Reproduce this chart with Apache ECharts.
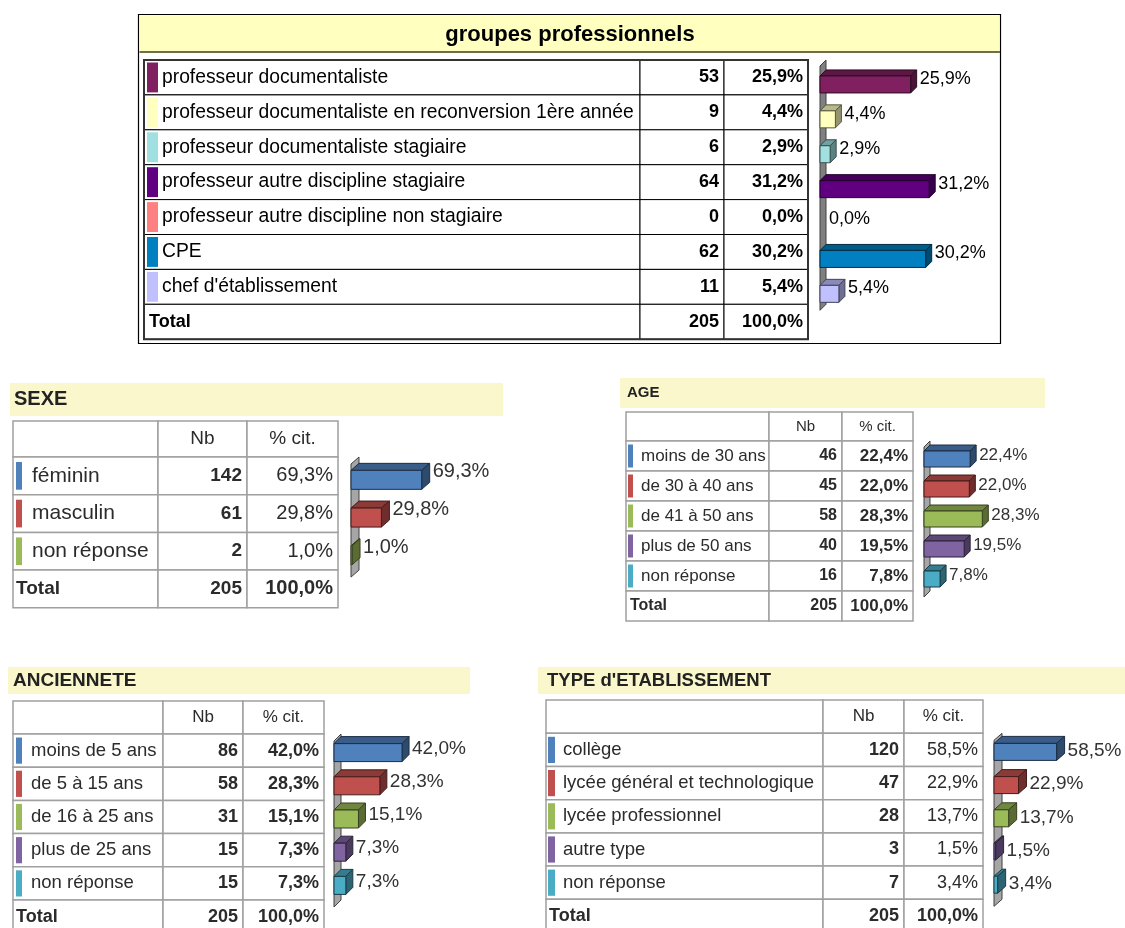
<!DOCTYPE html>
<html>
<head>
<meta charset="utf-8">
<script src="https://cdn.jsdelivr.net/npm/echarts@6/dist/echarts.min.js"></script>
<style>
  html, body { margin: 0; padding: 0; background: #fff; }
  #chart { width: 1125px; height: 928px; }
</style>
</head>
<body>
<div id="chart"></div>
<script>
// groupes professionnels
const gpLabels = ["professeur documentaliste", "professeur documentaliste en reconversion 1ère année",
  "professeur documentaliste stagiaire", "professeur autre discipline stagiaire",
  "professeur autre discipline non stagiaire", "CPE", "chef d'établissement"];
const gpNb = [53, 9, 6, 64, 0, 62, 11];
const gpPct = [25.9, 4.4, 2.9, 31.2, 0.0, 30.2, 5.4];
const gpColors = ["#802060", "#ffffc0", "#a0e0e0", "#600080", "#ff8080", "#0080c0", "#c0c0ff"];

// SEXE
const sexeLabels = ["féminin", "masculin", "non réponse"];
const sexeNb = [142, 61, 2];
const sexePct = [69.3, 29.8, 1.0];

// AGE
const ageLabels = ["moins de 30 ans", "de 30 à 40 ans", "de 41 à 50 ans", "plus de 50 ans", "non réponse"];
const ageNb = [46, 45, 58, 40, 16];
const agePct = [22.4, 22.0, 28.3, 19.5, 7.8];

// ANCIENNETE
const ancLabels = ["moins de 5 ans", "de 5 à 15 ans", "de 16 à 25 ans", "plus de 25 ans", "non réponse"];
const ancNb = [86, 58, 31, 15, 15];
const ancPct = [42.0, 28.3, 15.1, 7.3, 7.3];

// TYPE d'ETABLISSEMENT
const typeLabels = ["collège", "lycée général et technologique", "lycée professionnel", "autre type", "non réponse"];
const typeNb = [120, 47, 28, 3, 7];
const typePct = [58.5, 22.9, 13.7, 1.5, 3.4];

const officeColors = ["#4f81bd", "#c0504d", "#9bbb59", "#8064a2", "#4bacc6"];
const totalNb = 205;
const totalPct = 100.0;

const FAMILY = "'Liberation Sans', Arial, sans-serif";
const font = (size, bold) => (bold ? "bold " : "") + size + "px " + FAMILY;
const fmt = (v) => v.toFixed(1).replace(".", ",") + "%";

function shade(hex, f) {
  const n = parseInt(hex.slice(1), 16);
  const r = Math.round(((n >> 16) & 255) * f);
  const g = Math.round(((n >> 8) & 255) * f);
  const b = Math.round((n & 255) * f);
  return "rgb(" + r + "," + g + "," + b + ")";
}

// layout of each block (table + 3d bars)
const blocks = [
  {
    labels: gpLabels, nb: gpNb, pct: gpPct, colors: gpColors,
    top: 60, headerH: 0, rowH: 34.9, cols: [144, 640, 724, 808],
    lineColor: "#000", lineW: 1, outer: "#333", textColor: "#000",
    labelFont: 19.3, numFont: 18, pctFont: 18, pctBold: true, headFont: 18,
    labelX: 162, totalX: 149, swX: 147, swW: 11, swPad: 2.5,
    x0: 820, ppp: 3.5, vmax: 40, boxH: 17, dx: 6, dy: 6, off: 7, valFont: 18, valDy: -5.5, valColor: "#000",
    wallFill: "#808080", wallStroke: "#404040"
  },
  {
    title: "SEXE", band: [10, 383, 493, 33], titleX: 14, titleFont: 20,
    labels: sexeLabels, nb: sexeNb, pct: sexePct, colors: officeColors,
    top: 421, headerH: 36, rowH: 37.7, cols: [13, 158, 247, 338],
    lineColor: "#a0a0a0", lineW: 1.5, textColor: "#2b2b2b",
    labelFont: 21, numFont: 19, pctFont: 20, pctBold: false, headFont: 19,
    labelX: 32, totalX: 16, swX: 16, swW: 6, swPad: 5,
    x0: 351, ppp: 1.02, vmax: 100, boxH: 19, dx: 8, dy: 7, off: 4, valFont: 20, valDy: -8, valColor: "#333",
    wallFill: "#a6a6a6", wallStroke: "#404040"
  },
  {
    title: "AGE", band: [620, 378, 425, 30], titleX: 627, titleFont: 15,
    labels: ageLabels, nb: ageNb, pct: agePct, colors: officeColors,
    top: 412, headerH: 29, rowH: 30, cols: [626, 769, 842, 913],
    lineColor: "#a0a0a0", lineW: 1.5, textColor: "#2b2b2b",
    labelFont: 17, numFont: 16, pctFont: 17, pctBold: true, headFont: 15,
    labelX: 641, totalX: 630, swX: 628, swW: 5, swPad: 3.5,
    x0: 924, ppp: 2.06, vmax: 40, boxH: 16, dx: 6, dy: 6, off: 3, valFont: 17, valDy: -3.5, valColor: "#333",
    wallFill: "#a6a6a6", wallStroke: "#404040"
  },
  {
    title: "ANCIENNETE", band: [8, 667, 462, 27], titleX: 13, titleFont: 19,
    labels: ancLabels, nb: ancNb, pct: ancPct, colors: officeColors,
    top: 701, headerH: 33, rowH: 33.2, cols: [13, 163, 243, 324],
    lineColor: "#a0a0a0", lineW: 1.5, textColor: "#2b2b2b",
    labelFont: 18.5, numFont: 18, pctFont: 18, pctBold: true, headFont: 17,
    labelX: 31, totalX: 16, swX: 16, swW: 6, swPad: 3.5,
    x0: 334, ppp: 1.62, vmax: 60, boxH: 18, dx: 7, dy: 7, off: 2, valFont: 19, valDy: -4, valColor: "#333",
    wallFill: "#a6a6a6", wallStroke: "#404040"
  },
  {
    title: "TYPE d'ETABLISSEMENT", band: [538, 667, 587, 27], titleX: 547, titleFont: 18.5,
    labels: typeLabels, nb: typeNb, pct: typePct, colors: officeColors,
    top: 700, headerH: 33.3, rowH: 33.2, cols: [546, 823, 904, 983],
    lineColor: "#a0a0a0", lineW: 1.5, textColor: "#2b2b2b",
    labelFont: 18.5, numFont: 18, pctFont: 18, pctBold: false, headFont: 17,
    labelX: 563, totalX: 549, swX: 548, swW: 7, swPad: 3.5,
    x0: 994, ppp: 1.07, vmax: 80, boxH: 17, dx: 8, dy: 7, off: 2, valFont: 19, valDy: -1, valColor: "#333",
    wallFill: "#a6a6a6", wallStroke: "#404040"
  }
];

function textEl(text, x, y, f, fill, align) {
  return {
    type: "text", silent: true,
    style: { text: text, x: x, y: y, font: f, fill: fill,
      align: align, textAlign: align, verticalAlign: "middle", textVerticalAlign: "middle" }
  };
}

// table of a block, drawn as graphic elements
function tableEls(b) {
  const els = [];
  if (b.title) {
    els.push({ type: "rect", silent: true, shape: { x: b.band[0], y: b.band[1], width: b.band[2], height: b.band[3] },
      style: { fill: "#fbf7cc" } });
    els.push(textEl(b.title, b.titleX, b.band[1] + b.band[3] / 2, font(b.titleFont, true), "#222", "left"));
  }
  const rows = [];
  let y = b.top;
  if (b.headerH) { rows.push({ y: y, h: b.headerH, kind: "header" }); y += b.headerH; }
  b.labels.forEach((lab, i) => { rows.push({ y: y, h: b.rowH, kind: "item", i: i }); y += b.rowH; });
  rows.push({ y: y, h: b.rowH, kind: "total" });
  const c = b.cols;
  rows.forEach((r) => {
    for (let k = 0; k < 3; k++) {
      els.push({ type: "rect", silent: true, shape: { x: c[k], y: r.y, width: c[k + 1] - c[k], height: r.h },
        style: { fill: "#fff", stroke: b.lineColor, lineWidth: b.lineW } });
    }
    const cy = r.y + r.h / 2;
    if (r.kind === "header") {
      els.push(textEl("Nb", (c[1] + c[2]) / 2, cy, font(b.headFont, false), b.textColor, "center"));
      els.push(textEl("% cit.", (c[2] + c[3]) / 2, cy, font(b.headFont, false), b.textColor, "center"));
    } else if (r.kind === "item") {
      els.push({ type: "rect", silent: true,
        shape: { x: b.swX, y: r.y + b.swPad, width: b.swW, height: r.h - 2 * b.swPad },
        style: { fill: b.colors[r.i] } });
      els.push(textEl(b.labels[r.i], b.labelX, cy, font(b.labelFont, false), b.textColor, "left"));
      els.push(textEl(String(b.nb[r.i]), c[2] - 5, cy, font(b.numFont, true), b.textColor, "right"));
      els.push(textEl(fmt(b.pct[r.i]), c[3] - 5, cy, font(b.pctFont, b.pctBold), b.textColor, "right"));
    } else {
      els.push(textEl("Total", b.totalX, cy, font(b.numFont, true), b.textColor, "left"));
      els.push(textEl(String(totalNb), c[2] - 5, cy, font(b.numFont, true), b.textColor, "right"));
      els.push(textEl(fmt(totalPct), c[3] - 5, cy, font(b.pctFont, true), b.textColor, "right"));
    }
  });
  if (b.outer) {
    els.push({ type: "rect", silent: true, shape: { x: c[0], y: b.top, width: c[3] - c[0], height: y + b.rowH - b.top },
      style: { fill: "none", stroke: b.outer, lineWidth: 2 } });
  }
  return els;
}

// frame and title of the top block
const frameEls = [
  { type: "rect", silent: true, shape: { x: 138.5, y: 14.5, width: 862, height: 329 },
    style: { fill: "#fff", stroke: "#000", lineWidth: 1.2 } },
  { type: "rect", silent: true, shape: { x: 139.5, y: 15.5, width: 860, height: 36 }, style: { fill: "#ffffc0" } },
  { type: "line", silent: true, shape: { x1: 139.5, y1: 52, x2: 1000, y2: 52 }, style: { stroke: "#6e6e48", lineWidth: 2 } },
  textEl("groupes professionnels", 570, 35, font(22, true), "#000", "center")
];

// 3d box for each value, plus the grey wall at zero
function makeRender(b) {
  return function (params, api) {
    const i = api.value(1);
    const v = api.value(0);
    const p0 = api.coord([0, i]);
    const p1 = api.coord([v, i]);
    const band = api.size([0, 1])[1];
    const yc = p0[1] + b.off;
    const yt = yc - b.boxH / 2;
    const yb = yc + b.boxH / 2;
    const x0 = p0[0];
    const x1 = p1[0];
    const color = b.colors[i];
    const stroke = shade(color, 0.35);
    const children = [];
    if (params.dataIndex === 0) {
      const top = p0[1] - band / 2;
      const bottom = api.coord([0, b.labels.length - 1])[1] + band / 2;
      children.push({ type: "polygon",
        shape: { points: [[x0, top + b.dy], [x0 + b.dx, top], [x0 + b.dx, bottom], [x0, bottom + b.dy]] },
        style: { fill: b.wallFill, stroke: b.wallStroke, lineWidth: 1 } });
    }
    if (v > 0) {
      children.push({ type: "polygon",
        shape: { points: [[x0, yt], [x0 + b.dx, yt - b.dy], [x1 + b.dx, yt - b.dy], [x1, yt]] },
        style: { fill: shade(color, 0.72), stroke: stroke, lineWidth: 1 } });
      children.push({ type: "polygon",
        shape: { points: [[x1, yt], [x1 + b.dx, yt - b.dy], [x1 + b.dx, yb - b.dy], [x1, yb]] },
        style: { fill: shade(color, 0.58), stroke: stroke, lineWidth: 1 } });
      children.push({ type: "rect",
        shape: { x: x0, y: yt, width: x1 - x0, height: b.boxH },
        style: { fill: color, stroke: stroke, lineWidth: 1 } });
    }
    children.push({ type: "text",
      style: { text: fmt(v), x: x1 + b.dx + 3, y: yc + b.valDy, font: font(b.valFont, false), fill: b.valColor,
        align: "left", textAlign: "left", verticalAlign: "middle", textVerticalAlign: "middle" } });
    return { type: "group", children: children };
  };
}

const grids = [], xAxes = [], yAxes = [], series = [];
let graphics = frameEls.slice();
blocks.forEach((b, k) => {
  grids.push({ left: b.x0, top: b.top + b.headerH, width: b.ppp * b.vmax, height: b.rowH * b.labels.length,
    outerBoundsMode: "none", containLabel: false });
  xAxes.push({ gridIndex: k, type: "value", min: 0, max: b.vmax, show: false });
  yAxes.push({ gridIndex: k, type: "category", data: b.labels, inverse: true, show: false });
  series.push({
    type: "custom", xAxisIndex: k, yAxisIndex: k, clip: false, silent: true,
    renderItem: makeRender(b),
    encode: { x: 0, y: 1 },
    data: b.pct.map((v, j) => [v, j])
  });
  graphics = graphics.concat(tableEls(b));
});

const chart = echarts.init(document.getElementById("chart"));
chart.setOption({
  animation: false,
  backgroundColor: "#fff",
  grid: grids,
  xAxis: xAxes,
  yAxis: yAxes,
  graphic: { elements: graphics },
  series: series
});
</script>
</body>
</html>
